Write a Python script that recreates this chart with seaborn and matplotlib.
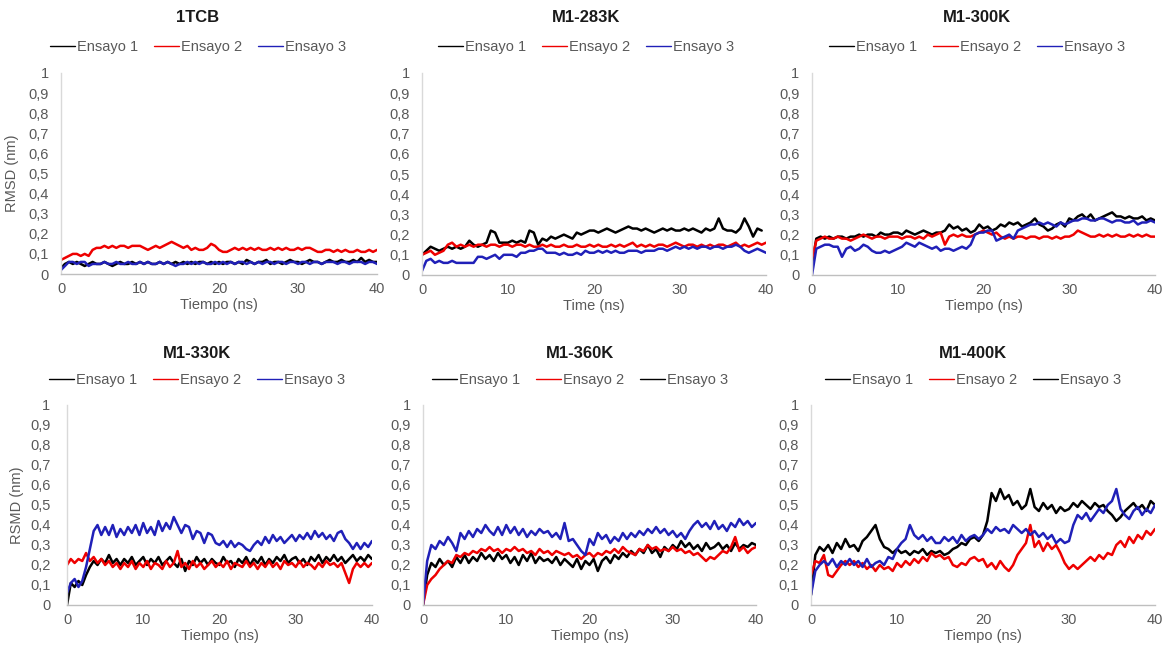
import numpy as np
import pandas as pd
import matplotlib
matplotlib.use("Agg")
import matplotlib.pyplot as plt
from matplotlib.lines import Line2D
import seaborn as sns

# ---------------- data (RMSD, nm), sampled every 0.5 ns ----------------
time_step = 0.5
titles = ["1TCB", "M1-283K", "M1-300K", "M1-330K", "M1-360K", "M1-400K"]
xlabels = ["Tiempo (ns)", "Time (ns)", "Tiempo (ns)", "Tiempo (ns)", "Tiempo (ns)", "Tiempo (ns)"]
ylabels = ["RMSD (nm)", "", "", "RSMD (nm)", "", ""]
series_names = ["Ensayo 1", "Ensayo 2", "Ensayo 3"]
y_ticks = [0, 0.1, 0.2, 0.3, 0.4, 0.5, 0.6, 0.7, 0.8, 0.9, 1]
y_ticklabels = ["0", "0,1", "0,2", "0,3", "0,4", "0,5", "0,6", "0,7", "0,8", "0,9", "1"]
x_ticks = [0, 10, 20, 30, 40]

tcb_e1 = [0.03,0.05,0.06,0.05,0.06,0.05,0.04,0.05,0.06,0.05,
          0.05,0.06,0.05,0.04,0.05,0.06,0.05,0.05,0.06,0.05,
          0.06,0.05,0.06,0.05,0.05,0.06,0.05,0.06,0.05,0.06,
          0.05,0.06,0.05,0.06,0.05,0.06,0.06,0.05,0.06,0.05,
          0.06,0.05,0.06,0.06,0.05,0.06,0.05,0.07,0.06,0.05,
          0.06,0.06,0.07,0.05,0.06,0.06,0.05,0.06,0.07,0.06,
          0.06,0.05,0.06,0.07,0.06,0.06,0.05,0.06,0.07,0.06,
          0.06,0.07,0.06,0.06,0.07,0.06,0.08,0.06,0.07,0.06,0.06]
tcb_e2 = [0.07,0.08,0.09,0.10,0.10,0.09,0.10,0.09,0.12,0.13,
          0.13,0.14,0.13,0.14,0.13,0.14,0.14,0.13,0.14,0.14,
          0.14,0.13,0.12,0.13,0.14,0.13,0.14,0.15,0.16,0.15,
          0.14,0.13,0.14,0.12,0.13,0.12,0.12,0.13,0.15,0.14,
          0.12,0.11,0.11,0.12,0.13,0.12,0.13,0.12,0.13,0.12,
          0.13,0.12,0.12,0.13,0.12,0.13,0.12,0.13,0.12,0.12,
          0.13,0.12,0.13,0.13,0.12,0.11,0.11,0.12,0.12,0.11,
          0.12,0.11,0.12,0.11,0.11,0.12,0.11,0.11,0.12,0.11,0.12]
tcb_e3 = [0.02,0.04,0.06,0.06,0.05,0.06,0.06,0.04,0.05,0.05,
          0.05,0.06,0.05,0.05,0.06,0.05,0.05,0.06,0.05,0.05,
          0.06,0.05,0.06,0.05,0.05,0.06,0.05,0.06,0.05,0.04,
          0.05,0.05,0.06,0.05,0.06,0.05,0.06,0.05,0.05,0.06,
          0.05,0.06,0.05,0.06,0.05,0.06,0.06,0.05,0.06,0.05,
          0.06,0.05,0.06,0.06,0.05,0.06,0.06,0.05,0.06,0.06,
          0.05,0.06,0.06,0.05,0.06,0.06,0.05,0.06,0.06,0.06,
          0.05,0.06,0.06,0.05,0.06,0.06,0.06,0.05,0.06,0.06,0.05]

k283_e1 = [0.10,0.12,0.14,0.13,0.12,0.13,0.14,0.13,0.14,0.13,
           0.14,0.17,0.15,0.14,0.15,0.16,0.22,0.21,0.16,0.16,
           0.16,0.17,0.16,0.17,0.16,0.22,0.21,0.15,0.18,0.17,
           0.19,0.18,0.19,0.20,0.19,0.18,0.21,0.20,0.21,0.22,
           0.22,0.21,0.22,0.23,0.22,0.21,0.22,0.23,0.24,0.23,
           0.23,0.22,0.23,0.22,0.21,0.22,0.23,0.22,0.23,0.22,
           0.22,0.23,0.22,0.23,0.22,0.21,0.23,0.22,0.23,0.28,
           0.23,0.22,0.22,0.21,0.23,0.28,0.24,0.19,0.23,0.22]
k283_e2 = [0.10,0.11,0.12,0.10,0.11,0.12,0.15,0.16,0.14,0.15,
           0.14,0.15,0.14,0.15,0.15,0.14,0.15,0.15,0.14,0.15,
           0.15,0.14,0.15,0.15,0.14,0.15,0.14,0.14,0.15,0.14,
           0.15,0.14,0.14,0.15,0.14,0.14,0.15,0.14,0.14,0.15,
           0.14,0.15,0.14,0.14,0.15,0.14,0.15,0.14,0.15,0.16,
           0.14,0.15,0.14,0.15,0.14,0.15,0.15,0.14,0.15,0.16,
           0.15,0.14,0.15,0.15,0.14,0.15,0.14,0.15,0.14,0.15,
           0.15,0.14,0.15,0.16,0.14,0.15,0.14,0.15,0.16,0.15,0.16]
k283_e3 = [0.02,0.07,0.08,0.06,0.07,0.06,0.06,0.07,0.06,0.06,
           0.06,0.06,0.06,0.09,0.09,0.08,0.09,0.10,0.08,0.10,
           0.10,0.10,0.09,0.11,0.11,0.12,0.12,0.13,0.13,0.11,
           0.11,0.11,0.10,0.11,0.10,0.10,0.11,0.10,0.12,0.11,
           0.11,0.12,0.11,0.12,0.11,0.12,0.11,0.11,0.12,0.12,
           0.12,0.11,0.12,0.12,0.12,0.13,0.13,0.12,0.13,0.14,
           0.13,0.14,0.13,0.14,0.13,0.14,0.14,0.13,0.14,0.14,
           0.13,0.14,0.14,0.15,0.14,0.12,0.11,0.12,0.13,0.12,0.11]

k300_e1 = [0.05,0.18,0.19,0.18,0.19,0.18,0.19,0.19,0.18,0.19,
           0.19,0.20,0.19,0.20,0.20,0.19,0.21,0.20,0.20,0.21,
           0.21,0.20,0.22,0.21,0.20,0.21,0.22,0.21,0.20,0.21,
           0.21,0.22,0.25,0.23,0.24,0.22,0.23,0.21,0.22,0.25,
           0.23,0.24,0.22,0.23,0.25,0.24,0.26,0.25,0.26,0.24,
           0.25,0.26,0.28,0.25,0.24,0.22,0.23,0.25,0.26,0.24,
           0.28,0.27,0.29,0.30,0.28,0.30,0.27,0.28,0.29,0.30,
           0.31,0.29,0.29,0.28,0.29,0.28,0.28,0.29,0.27,0.28,0.27]
k300_e2 = [0.08,0.17,0.18,0.19,0.18,0.18,0.19,0.18,0.18,0.17,
           0.18,0.19,0.20,0.19,0.18,0.19,0.19,0.18,0.19,0.19,
           0.19,0.18,0.19,0.19,0.18,0.19,0.18,0.20,0.19,0.20,
           0.21,0.15,0.19,0.20,0.19,0.20,0.19,0.19,0.20,0.21,
           0.22,0.21,0.20,0.21,0.19,0.18,0.19,0.18,0.19,0.19,
           0.18,0.19,0.19,0.18,0.19,0.19,0.18,0.19,0.18,0.19,
           0.19,0.20,0.22,0.21,0.20,0.19,0.19,0.20,0.19,0.20,
           0.19,0.20,0.19,0.19,0.20,0.19,0.20,0.19,0.20,0.19,0.19]
k300_e3 = [0.00,0.13,0.14,0.15,0.15,0.14,0.14,0.09,0.13,0.14,
           0.12,0.13,0.15,0.14,0.12,0.11,0.11,0.12,0.11,0.12,
           0.13,0.14,0.16,0.15,0.14,0.16,0.15,0.14,0.13,0.14,
           0.12,0.13,0.13,0.12,0.13,0.14,0.13,0.15,0.20,0.21,
           0.21,0.22,0.22,0.17,0.18,0.19,0.20,0.18,0.22,0.23,
           0.24,0.25,0.25,0.26,0.25,0.26,0.25,0.24,0.26,0.25,
           0.26,0.27,0.27,0.28,0.28,0.27,0.27,0.28,0.28,0.27,
           0.26,0.27,0.27,0.26,0.26,0.27,0.25,0.26,0.26,0.27,0.26]

k330_e1 = [0.00,0.11,0.09,0.12,0.10,0.15,0.19,0.22,0.20,0.23,
           0.21,0.25,0.21,0.23,0.20,0.23,0.21,0.24,0.20,0.22,
           0.24,0.20,0.23,0.21,0.24,0.20,0.22,0.24,0.21,0.19,
           0.23,0.17,0.22,0.20,0.24,0.21,0.23,0.20,0.23,0.21,
           0.20,0.24,0.21,0.22,0.19,0.23,0.21,0.24,0.20,0.23,
           0.21,0.24,0.20,0.23,0.21,0.24,0.22,0.25,0.21,0.23,
           0.24,0.21,0.23,0.20,0.24,0.22,0.25,0.21,0.24,0.22,
           0.25,0.22,0.24,0.21,0.23,0.25,0.22,0.24,0.22,0.25,0.23]
k330_e2 = [0.20,0.23,0.21,0.23,0.22,0.26,0.22,0.24,0.21,0.23,
           0.20,0.22,0.19,0.21,0.18,0.21,0.19,0.22,0.18,0.21,
           0.19,0.22,0.18,0.21,0.20,0.18,0.22,0.19,0.21,0.27,
           0.19,0.21,0.18,0.22,0.19,0.21,0.18,0.20,0.22,0.19,
           0.21,0.19,0.22,0.18,0.21,0.20,0.19,0.22,0.19,0.21,
           0.18,0.21,0.19,0.22,0.19,0.21,0.18,0.22,0.20,0.21,
           0.19,0.22,0.19,0.21,0.20,0.18,0.21,0.19,0.22,0.20,
           0.21,0.19,0.21,0.16,0.11,0.18,0.21,0.19,0.21,0.19,0.21]
k330_e3 = [0.06,0.11,0.13,0.09,0.12,0.19,0.28,0.37,0.40,0.35,
           0.39,0.35,0.40,0.34,0.38,0.35,0.39,0.36,0.40,0.35,
           0.41,0.36,0.39,0.35,0.42,0.37,0.41,0.38,0.44,0.40,
           0.36,0.40,0.39,0.33,0.37,0.36,0.31,0.36,0.35,0.31,
           0.30,0.32,0.29,0.32,0.29,0.31,0.30,0.28,0.27,0.30,
           0.32,0.30,0.34,0.31,0.35,0.32,0.34,0.31,0.33,0.35,
           0.32,0.35,0.33,0.36,0.33,0.37,0.34,0.36,0.33,0.35,
           0.32,0.36,0.37,0.33,0.31,0.28,0.31,0.28,0.31,0.29,0.32]

k360_e1 = [0.00,0.15,0.21,0.19,0.23,0.20,0.22,0.19,0.24,0.21,
           0.25,0.21,0.24,0.22,0.26,0.23,0.25,0.22,0.26,0.23,
           0.25,0.21,0.24,0.20,0.25,0.22,0.26,0.21,0.24,0.22,
           0.23,0.21,0.24,0.20,0.23,0.21,0.19,0.23,0.18,0.22,
           0.20,0.23,0.17,0.22,0.24,0.21,0.25,0.23,0.26,0.24,
           0.27,0.25,0.28,0.26,0.30,0.26,0.28,0.24,0.29,0.27,
           0.30,0.28,0.32,0.29,0.31,0.28,0.30,0.27,0.31,0.28,
           0.29,0.31,0.28,0.30,0.27,0.31,0.28,0.30,0.29,0.31,0.30]
k360_e2 = [0.00,0.10,0.13,0.15,0.18,0.20,0.22,0.21,0.25,0.24,
           0.26,0.25,0.27,0.26,0.28,0.27,0.29,0.27,0.28,0.26,
           0.28,0.27,0.29,0.27,0.28,0.26,0.27,0.25,0.28,0.26,
           0.27,0.25,0.27,0.26,0.25,0.26,0.24,0.25,0.23,0.25,
           0.26,0.24,0.26,0.25,0.27,0.26,0.28,0.26,0.29,0.27,
           0.26,0.25,0.28,0.27,0.30,0.28,0.29,0.27,0.28,0.27,
           0.29,0.27,0.28,0.26,0.27,0.25,0.26,0.24,0.22,0.24,
           0.23,0.25,0.27,0.26,0.29,0.34,0.27,0.29,0.26,0.28,0.29]
k360_e3 = [0.00,0.22,0.30,0.28,0.32,0.30,0.34,0.31,0.27,0.36,
           0.33,0.37,0.34,0.38,0.36,0.40,0.37,0.35,0.39,0.35,
           0.40,0.36,0.39,0.35,0.38,0.34,0.37,0.35,0.38,0.36,
           0.37,0.34,0.36,0.33,0.41,0.32,0.33,0.30,0.27,0.25,
           0.33,0.30,0.36,0.33,0.35,0.31,0.34,0.32,0.36,0.33,
           0.36,0.34,0.37,0.35,0.38,0.36,0.39,0.36,0.38,0.35,
           0.37,0.34,0.36,0.33,0.37,0.40,0.42,0.39,0.41,0.38,
           0.42,0.38,0.40,0.37,0.41,0.39,0.43,0.40,0.42,0.39,0.41]

k400_e1 = [0.05,0.25,0.29,0.27,0.30,0.26,0.31,0.28,0.33,0.29,
           0.30,0.27,0.32,0.34,0.37,0.40,0.33,0.29,0.28,0.26,
           0.28,0.26,0.27,0.25,0.27,0.26,0.28,0.25,0.27,0.26,
           0.27,0.25,0.26,0.28,0.29,0.31,0.30,0.33,0.34,0.32,
           0.35,0.42,0.56,0.52,0.58,0.53,0.55,0.50,0.52,0.48,
           0.50,0.58,0.49,0.47,0.51,0.48,0.50,0.46,0.49,0.47,
           0.48,0.51,0.49,0.52,0.50,0.48,0.51,0.49,0.50,0.47,
           0.45,0.42,0.44,0.47,0.49,0.51,0.48,0.50,0.47,0.52,0.50]
k400_e2 = [0.15,0.22,0.21,0.25,0.15,0.14,0.17,0.20,0.22,0.20,
           0.22,0.19,0.21,0.18,0.20,0.17,0.20,0.18,0.19,0.17,
           0.21,0.19,0.22,0.20,0.23,0.21,0.24,0.22,0.26,0.24,
           0.25,0.23,0.24,0.20,0.19,0.21,0.20,0.23,0.24,0.22,
           0.23,0.19,0.21,0.18,0.22,0.19,0.17,0.20,0.25,0.28,
           0.31,0.40,0.29,0.32,0.27,0.31,0.28,0.30,0.26,0.21,
           0.18,0.20,0.18,0.20,0.22,0.24,0.22,0.25,0.23,0.26,
           0.25,0.30,0.32,0.29,0.34,0.31,0.35,0.33,0.37,0.35,0.38]
k400_e3 = [0.05,0.17,0.20,0.22,0.20,0.23,0.19,0.22,0.20,0.23,
           0.20,0.22,0.19,0.23,0.19,0.21,0.22,0.20,0.24,0.23,
           0.28,0.31,0.33,0.40,0.35,0.33,0.35,0.32,0.34,0.31,
           0.31,0.34,0.32,0.34,0.31,0.35,0.32,0.34,0.35,0.33,
           0.35,0.38,0.36,0.39,0.37,0.38,0.36,0.40,0.38,0.36,
           0.38,0.35,0.37,0.34,0.36,0.33,0.35,0.31,0.33,0.31,
           0.32,0.40,0.45,0.43,0.46,0.42,0.45,0.48,0.46,0.50,
           0.52,0.58,0.48,0.45,0.43,0.47,0.49,0.45,0.48,0.46,0.50]

panel_series = [
    [tcb_e1, tcb_e2, tcb_e3],
    [k283_e1, k283_e2, k283_e3],
    [k300_e1, k300_e2, k300_e3],
    [k330_e1, k330_e2, k330_e3],
    [k360_e1, k360_e2, k360_e3],
    [k400_e1, k400_e2, k400_e3],
]

# ---------------- styling ----------------
sns.set_style("white")
plt.rcParams['font.family'] = ['Liberation Sans', 'DejaVu Sans']

BLACK, RED, BLUE = "#000000", "#ee0000", "#2020b8"
line_colors = [BLACK, RED, BLUE]
legend_colors = [
    [BLACK, RED, BLUE], [BLACK, RED, BLUE], [BLACK, RED, BLUE],
    [BLACK, RED, BLUE], [BLACK, RED, BLACK], [BLACK, RED, BLACK],
]
TXT = "#595959"

W, H = 1163, 648
fig = plt.figure(figsize=(W / 100, H / 100), dpi=100)

# axes boxes in pixels: (x0, x1, y_top, y_bottom); title/legend centre x
boxes = [(61, 377, 73, 274), (422, 766, 73, 275), (812, 1155, 73, 275),
         (67, 372, 405, 605), (423, 756, 405, 605), (811, 1155, 405, 605)]
centers = [198, 586, 977, 197, 580, 973]
title_y = [18, 18, 18, 353, 353, 353]
legend_y = [47, 47, 47, 380, 380, 380]
ypads = [9, 9, 9, 12, 9, 9]
ylabel_x = [19, None, None, 24, None, None]

for i in range(6):
    x0, x1, yt, yb = boxes[i]
    ax = fig.add_axes([x0 / W, (H - yb) / H, (x1 - x0) / W, (yb - yt) / H])
    for j, vals in enumerate(panel_series[i]):
        df = pd.DataFrame({"t": np.arange(len(vals)) * time_step, "rmsd": vals})
        sns.lineplot(data=df, x="t", y="rmsd", ax=ax, color=line_colors[j],
                     linewidth=1.8, legend=False)
    ax.set_xlim(0, 40)
    ax.set_ylim(0, 1)
    ax.set_xticks(x_ticks)
    ax.set_xticklabels([str(v) for v in x_ticks])
    ax.set_yticks(y_ticks)
    ax.set_yticklabels(y_ticklabels)
    ax.tick_params(axis="both", length=0, labelsize=10.5, colors=TXT)
    ax.tick_params(axis="y", pad=ypads[i])
    ax.tick_params(axis="x", pad=6)
    for s in ["top", "right"]:
        ax.spines[s].set_visible(False)
    ax.spines["left"].set_color("#d9d9d9")
    ax.spines["bottom"].set_color("#bfbfbf")
    ax.spines["left"].set_linewidth(1.0)
    ax.spines["bottom"].set_linewidth(1.0)
    ax.set_xlabel(xlabels[i], fontsize=10.5, color=TXT, labelpad=1)
    if ylabels[i]:
        ax.set_ylabel(ylabels[i], fontsize=10.5, color=TXT)
        ax.yaxis.set_label_coords((ylabel_x[i] - x0) / (x1 - x0), 0.5)
    else:
        ax.set_ylabel("")
    ax.grid(False)

    fig.text(centers[i] / W, 1 - title_y[i] / H, titles[i], ha="center", va="center",
             fontsize=12, fontweight="bold", color="#1a1a1a")
    handles = [Line2D([0], [0], color=c, lw=1.0) for c in legend_colors[i]]
    fig.legend(handles, series_names, loc="center",
               bbox_to_anchor=(centers[i] / W, 1 - legend_y[i] / H),
               ncol=3, frameon=False, fontsize=10.5, handlelength=1.7,
               handletextpad=0.15, columnspacing=1.1, labelcolor=TXT,
               borderaxespad=0, borderpad=0)

fig.savefig("out.png", dpi=100, facecolor="white")
